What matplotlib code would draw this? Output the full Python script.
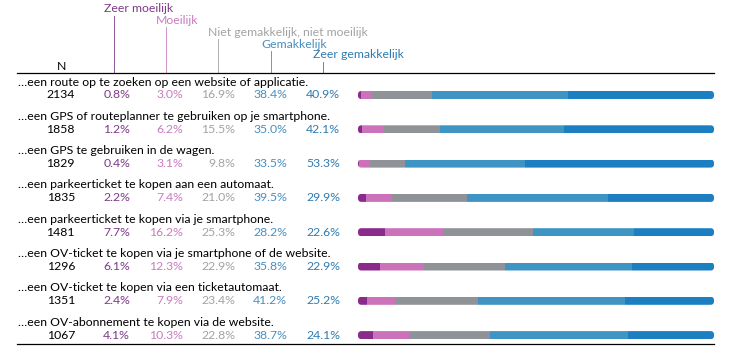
import matplotlib
matplotlib.use("Agg")
import matplotlib.pyplot as plt
from matplotlib.patches import FancyBboxPatch

plt.rcParams["font.family"] = ["Lato", "DejaVu Sans"]

items = [
    "…een route op te zoeken op een website of applicatie.",
    "…een GPS of routeplanner te gebruiken op je smartphone.",
    "…een GPS te gebruiken in de wagen.",
    "…een parkeerticket te kopen aan een automaat.",
    "…een parkeerticket te kopen via je smartphone.",
    "…een OV-ticket te kopen via je smartphone of de website.",
    "…een OV-ticket te kopen via een ticketautomaat.",
    "…een OV-abonnement te kopen via de website.",
]
n_resp = [2134, 1858, 1829, 1835, 1481, 1296, 1351, 1067]

categories = ["Zeer moeilijk", "Moeilijk", "Niet gemakkelijk, niet moeilijk",
              "Gemakkelijk", "Zeer gemakkelijk"]
zeer_moeilijk = [0.8, 1.2, 0.4, 2.2, 7.7, 6.1, 2.4, 4.1]
moeilijk = [3.0, 6.2, 3.1, 7.4, 16.2, 12.3, 7.9, 10.3]
neutraal = [16.9, 15.5, 9.8, 21.0, 25.3, 22.9, 23.4, 22.8]
gemakkelijk = [38.4, 35.0, 33.5, 39.5, 28.2, 35.8, 41.2, 38.7]
zeer_gemakkelijk = [40.9, 42.1, 53.3, 29.9, 22.6, 22.9, 25.2, 24.1]
series = [zeer_moeilijk, moeilijk, neutraal, gemakkelijk, zeer_gemakkelijk]

text_colors = ["#7d3a8a", "#c77dbf", "#a3a3a3", "#4a8fbf", "#2f7bb0"]
bar_colors = ["#8a2a8a", "#cc72bb", "#8f9297", "#3e95c4", "#1b7fc1"]

W, H = 731, 355
fig = plt.figure(figsize=(W / 100, H / 100), dpi=100)

# full-figure axes in pixel units for the table part
tx = fig.add_axes([0, 0, 1, 1])
tx.set_xlim(0, W)
tx.set_ylim(H, 0)
tx.axis("off")

row0, row_step = 95, 34.3
fs = 8.8
col_right = [130, 183, 235, 287, 340]
col_line = [114, 166, 218, 271, 323]
head_y = [9, 20.5, 32, 44, 55]

tx.text(62, 66, "N", ha="center", va="center", fontsize=fs)
for j, cat in enumerate(categories):
    tx.text(col_line[j] - 10, head_y[j], cat, ha="left", va="center",
            fontsize=fs, color=text_colors[j])
    tx.plot([col_line[j], col_line[j]], [head_y[j] + 6.5, 73],
            color=text_colors[j], lw=0.6)

tx.plot([17, 714], [73, 73], color="black", lw=0.9)
tx.plot([17, 714], [344, 344], color="black", lw=0.9)

for i, label in enumerate(items):
    y = row0 + i * row_step
    tx.text(18, y - 13, label, ha="left", va="center", fontsize=fs)
    tx.text(75, y, str(n_resp[i]), ha="right", va="center", fontsize=fs)
    for j, vals in enumerate(series):
        tx.text(col_right[j], y, f"{vals[i]:.1f}%", ha="right", va="center",
                fontsize=fs, color=text_colors[j])

# bar axes: x in percent, y in row index
x0, x1 = 358, 714
ax = fig.add_axes([x0 / W, 0, (x1 - x0) / W, 1])
ax.set_xlim(0, 100)
ax.set_ylim((H - row0) / row_step, -row0 / row_step)
ax.axis("off")

bar_h = 8 / row_step
aspect = (1 / row_step) / (100 / (x1 - x0))
rnd = 3.5 * 100 / (x1 - x0)
for i in range(len(items)):
    clip = FancyBboxPatch((0, i - bar_h / 2), 100, bar_h,
                          boxstyle=f"round,pad=0,rounding_size={rnd}",
                          mutation_aspect=aspect, transform=ax.transData,
                          facecolor="none", edgecolor="none")
    ax.add_patch(clip)
    left = 0
    for j, vals in enumerate(series):
        bars = ax.barh(i, vals[i], left=left, height=bar_h,
                       color=bar_colors[j], linewidth=0)
        for b in bars:
            b.set_clip_path(clip)
        left += vals[i]

fig.savefig("out.png", dpi=100)
